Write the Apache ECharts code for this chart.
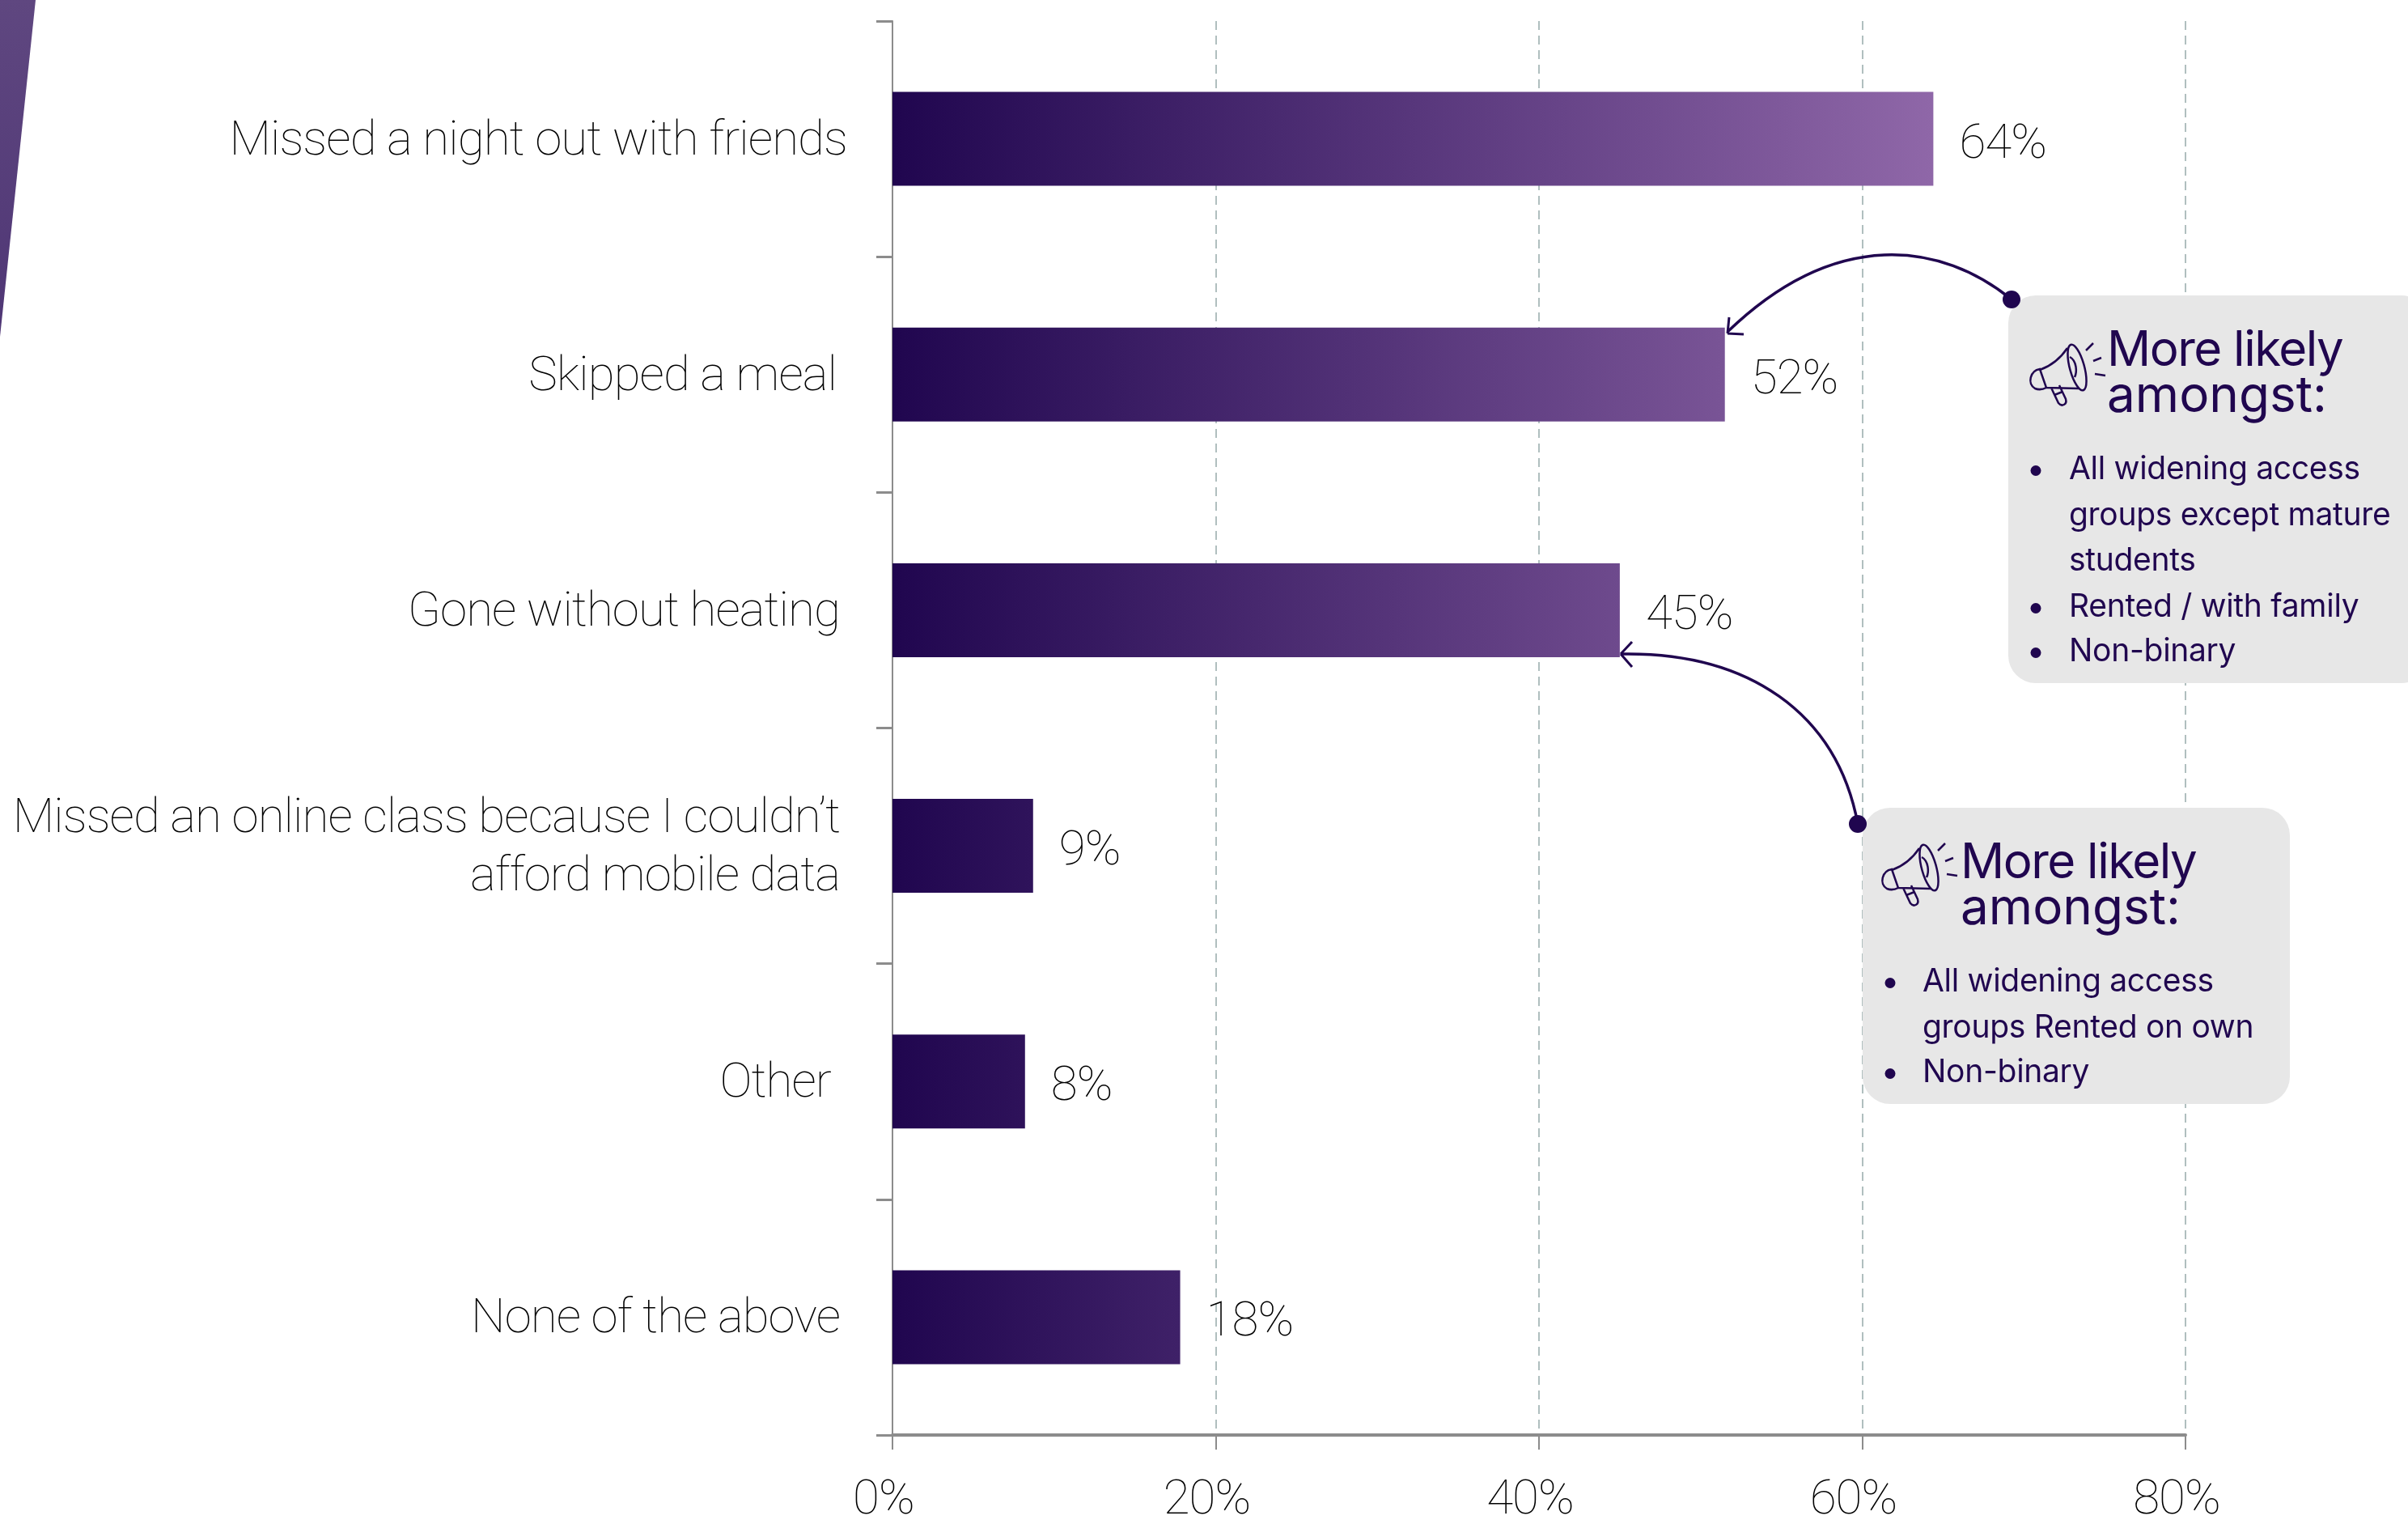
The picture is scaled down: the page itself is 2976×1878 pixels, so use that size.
<!DOCTYPE html>
<html><head><meta charset="utf-8">
<style>html,body{margin:0;padding:0;background:#fff}#c{width:2976px;height:1878px}</style>
<script src="https://cdn.jsdelivr.net/npm/echarts@6/dist/echarts.min.js"></script>
</head><body><div id="c"></div>
<script>
const categories = ["Missed a night out with friends","Skipped a meal","Gone without heating","Missed an online class because I couldn\u2019t\nafford mobile data","Other","None of the above"];
const values = [64.4,51.5,45,8.7,8.2,17.8];
const valueLabels = ["64%","52%","45%","9%","8%","18%"];
const labelGaps = [0,13,9,9,20,9];
const box1Lines = ["All widening access","groups except mature","students","Rented / with family","Non-binary"];
const box2Lines = ["All widening access","groups Rented on own","Non-binary"];

const DARK='#20064f', THIN='Roboto', HEAD='Inter', LABEL='#000';
// tighter tracking for the thin label face and the first heading line
const origFill=CanvasRenderingContext2D.prototype.fillText;
CanvasRenderingContext2D.prototype.fillText=function(t,x,y,m){
  const f=this.font;
  let s='0px';
  if(f.indexOf('Roboto')>=0) s='-0.9px';
  else if(f.indexOf('60px')>=0) s='-1.5px';
  else if(f.indexOf('39px')>=0) s='-0.3px';
  this.letterSpacing=s;
  return m===undefined?origFill.call(this,t,x,y):origFill.call(this,t,x,y,m);
};
const c0=[0x20,0x06,0x4f], c1=[0x8f,0x67,0xa8];
function mix(v){const t=v/64.4;return 'rgb('+c0.map((a,i)=>Math.round(a+(c1[i]-a)*t)).join(',')+')';}
const megaphone="M52,4 A9,29,-15,1,1,68,60 A9,29,-15,1,1,52,4 Z M48,8 C40,20 28,30 14,35 M62,58 L22,57 M14,34 C2,36 -2,52 8,58 C13,60 18,59 22,57 Z M28,57 L37,76 C41,81 48,78 46,71 L38,54 M32,66 L42,62 M51,19 C60,24 60,38 57,44 M71,11 L80,2 M80,24 L90,20 M82,40 L95,42";
let pathId=0;
function pathEl(d,x,y,lw,z){
  const name='annoPath'+(pathId++);
  echarts.graphic.registerShape(name,echarts.graphic.extendPath(d,{}));
  return {type:name,z:z,x:x,y:y,style:{fill:'none',stroke:DARK,lineWidth:lw}};
}
function txt(x,base,t,size,weight){return {type:'text',z:20,style:{x:x,y:base-size*0.36,text:t,fill:DARK,fontFamily:HEAD,fontSize:size,fontWeight:weight,verticalAlign:'middle',align:'left'}};}
function panel(o){
  const g=[];
  g.push({type:'rect',z:10,shape:{x:o.x,y:o.y,width:o.w,height:o.h,r:34},style:{fill:'#e7e7e7'}});
  g.push(pathEl(o.arrow,0,0,3.5,15));
  g.push(pathEl(o.head,0,0,3,15));
  g.push({type:'circle',z:16,shape:{cx:o.dot[0],cy:o.dot[1],r:11},style:{fill:DARK}});
  g.push(pathEl(megaphone,o.icon[0],o.icon[1],2.5,15));
  g.push(txt(o.hx,o.hb,'More likely',60,400));
  g.push(txt(o.hx,o.hb+57,'amongst:',62,400));
  o.lines.forEach((l,i)=>{
    g.push(txt(o.tx,o.base[i],l,o.ts,400));
    if(o.bullets[i]) g.push({type:'circle',z:16,shape:{cx:o.bx,cy:o.base[i]-12.5,r:6.5},style:{fill:DARK}});
  });
  return g;
}
const graphics=[
 {type:'polygon',z:5,shape:{points:[[0,0],[44,0],[0,416]]},style:{fill:new echarts.graphic.LinearGradient(1,0,0,1,[{offset:0,color:'#5f4780'},{offset:1,color:'#4f3675'}])}}
].concat(panel({x:2482,y:365,w:520,h:479,arrow:"M2486,370 C2400,300 2270,280 2135,410",head:"M2135,412 L2137,392 M2135,412 L2155,413",dot:[2486,370],icon:[2507,422],hx:2604,hb:456,tx:2557,ts:39,bx:2516,lines:box1Lines,base:[594,651,707,764,819],bullets:[1,0,0,1,1]}))
.concat(panel({x:2302,y:998,w:528,h:366,arrow:"M2296,1018 C2270,880 2160,805 2003,808",head:"M2003,808 L2017,793 M2003,808 L2017,824",dot:[2296,1018],icon:[2324,1040],hx:2423,hb:1089,tx:2376,ts:39,bx:2336,lines:box2Lines,base:[1227,1284,1339],bullets:[1,0,1]}));

const rich={};
labelGaps.forEach((g,i)=>{rich['g'+i]={fontFamily:THIN,fontWeight:100,fontSize:60,color:LABEL,padding:[8,g,0,0],lineHeight:72,align:'right'};});

const chart=echarts.init(document.getElementById('c'),null,{renderer:'canvas'});
chart.setOption({
  animation:false,
  backgroundColor:'#fff',
  grid:{left:1103,right:275,top:26,bottom:105,containLabel:false,outerBoundsMode:'none'},
  xAxis:{type:'value',min:0,max:80,interval:20,
    axisLine:{show:true,onZero:false,lineStyle:{color:'#8c8c8c',width:4}},
    axisTick:{show:true,length:18,lineStyle:{color:'#8c8c8c',width:2}},
    axisLabel:{margin:52,padding:[0,22,0,0],color:LABEL,fontFamily:THIN,fontWeight:100,fontSize:60,formatter:'{value}%'},
    splitLine:{show:true,lineStyle:{type:[11,7],color:'#b0bfbf',width:2}}},
  yAxis:{type:'category',inverse:true,data:categories,
    axisLine:{show:true,lineStyle:{color:'#8c8c8c',width:2}},
    axisTick:{show:true,length:20,lineStyle:{color:'#8c8c8c',width:3}},
    axisLabel:{margin:56,align:'right',formatter:function(v){
      const i=categories.indexOf(v);
      return v.split('\n').map(l=>'{g'+i+'|'+l+'}').join('\n');},rich:rich},
    splitLine:{show:false}},
  series:[{type:'bar',barWidth:116,
    data:values.map((v,i)=>({value:v,label:{formatter:valueLabels[i]},
      itemStyle:{color:new echarts.graphic.LinearGradient(0,0,1,0,[{offset:0,color:mix(0)},{offset:1,color:mix(v)}])}})),
    label:{show:true,position:'right',distance:32,offset:[0,8],color:LABEL,fontFamily:THIN,fontWeight:100,fontSize:60}}],
  graphic:{elements:graphics}
});
</script></body></html>
